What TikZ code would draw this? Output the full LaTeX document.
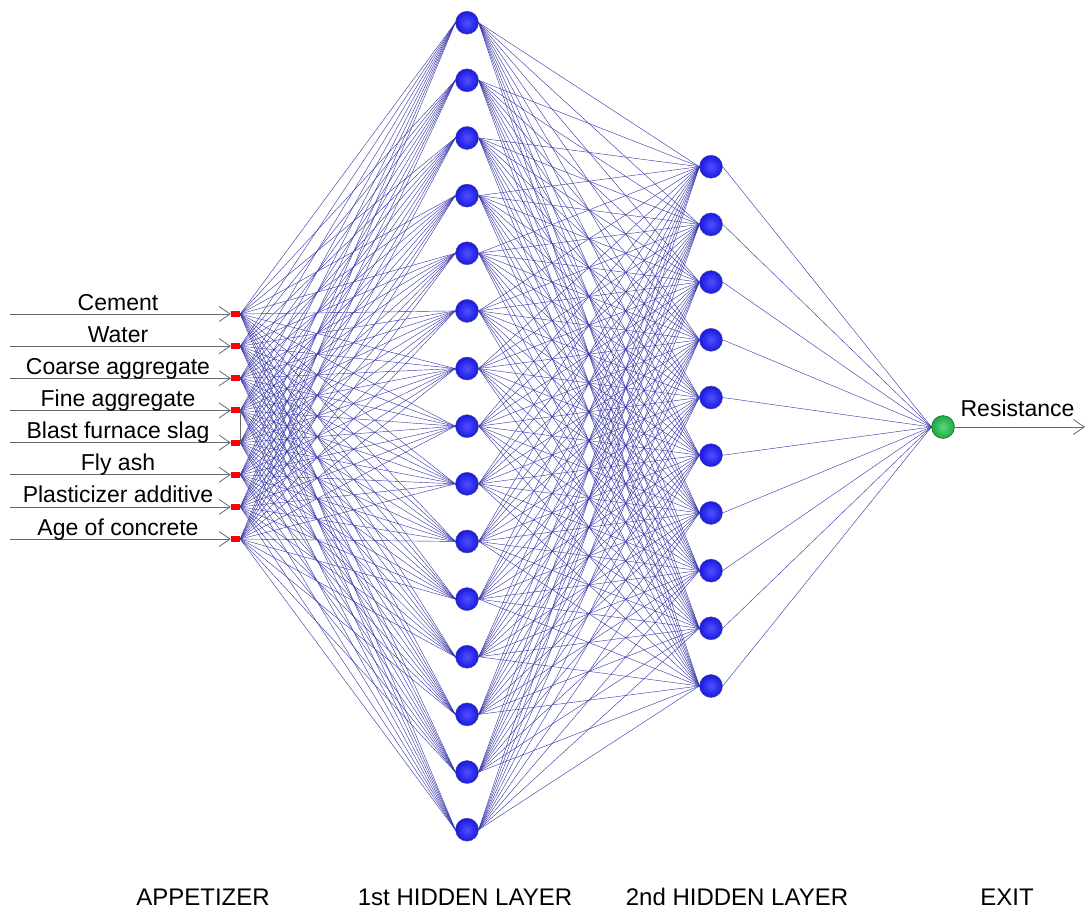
\documentclass[tikz,border=0pt]{standalone}
\usepackage{fontspec}
\setmainfont{Liberation Sans}
\usetikzlibrary{arrows.meta,backgrounds}
\definecolor{edgeblue}{RGB}{55,55,170}
\definecolor{inline}{RGB}{105,105,105}
\definecolor{nodeblueIn}{RGB}{80,80,255}
\definecolor{nodeblueOut}{RGB}{25,25,225}
\definecolor{nodeedge}{RGB}{80,80,150}
\definecolor{greenIn}{RGB}{95,215,125}
\definecolor{greenOut}{RGB}{30,165,70}
\begin{document}
\begin{tikzpicture}[x=1pt,y=-1pt,
  inputnode/.style={rectangle,fill=red,draw=none,minimum width=9pt,minimum height=6pt,inner sep=0pt},
  neuron/.style={circle,minimum size=23pt,inner sep=0pt,draw=nodeedge,line width=0.4pt,inner color=nodeblueIn,outer color=nodeblueOut},
  outneuron/.style={neuron,inner color=greenIn,outer color=greenOut,draw=green!40!black},
  link/.style={draw=edgeblue,line width=0.42pt},
  feed/.style={draw=inline,line width=0.8pt,-{Straight Barb[length=11pt,width=15pt]}},
  lab/.style={font=\fontsize{23}{27}\selectfont,anchor=base,inner sep=0pt},
  layercaption/.style={font=\fontsize{24}{28}\selectfont,anchor=base,inner sep=0pt},
]
\useasboundingbox (0,0) rectangle (1087,910);
% input layer
\foreach \i/\t in {1/Cement,2/Water,3/Coarse aggregate,4/Fine aggregate,5/Blast furnace slag,6/Fly ash,7/Plasticizer additive,8/Age of concrete} {
  \pgfmathsetmacro\yy{314+32.15*(\i-1)}
  \node[inputnode] (in\i) at (235.5,\yy) {};
  \coordinate (src\i) at (10,\yy);
  \draw[feed] (src\i) -- (in\i.west);
  \node[lab] (lab\i) at (118,\yy-4) {\t};
}
\draw[draw=inline,line width=0.6pt] (in4.east) -- (in5.east);
% hidden layers
\foreach \j in {1,...,15} \node[neuron] (h\j) at (467,{22.7+57.64*(\j-1)}) {};
\foreach \k in {1,...,10} \node[neuron] (g\k) at (711,{166.7+57.7*(\k-1)}) {};
% output
\node[outneuron] (o) at (943,427) {};
\coordinate (outend) at (1085,427);
\draw[feed] (o.east) -- (outend);
\node[lab] (res) at (1017.5,416.7) {Resistance};
% connections
\begin{pgfonlayer}{background}
\fill[white] (0,0) rectangle (1087,910);
\foreach \i in {1,...,8} \foreach \j in {1,...,15} \draw[link] (in\i.east) -- (h\j.west);
\foreach \j in {1,...,15} \foreach \k in {1,...,10} \draw[link] (h\j.east) -- (g\k.west);
\foreach \k in {1,...,10} \draw[link] (g\k.east) -- (o.west);
\end{pgfonlayer}
% layer captions
\node[layercaption] (c1) at (203,905) {APPETIZER};
\node[layercaption] (c2) at (465,905) {1st HIDDEN LAYER};
\node[layercaption] (c3) at (737,905) {2nd HIDDEN LAYER};
\node[layercaption] (c4) at (1007,905) {EXIT};
\end{tikzpicture}
\end{document}
